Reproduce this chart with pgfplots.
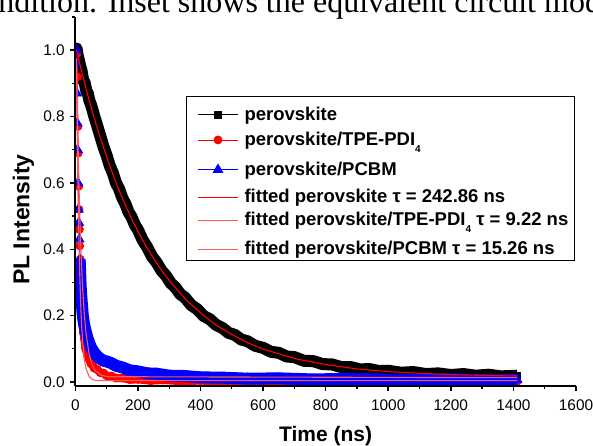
\documentclass[border=0pt]{standalone}
\usepackage{pgfplots}
\pgfplotsset{compat=1.18}
\usepackage{fontspec}
\setmainfont{Liberation Sans}
\newfontfamily\serifx{Liberation Serif}
\newcommand{\subfour}{\raisebox{-7.2bp}{\fontsize{10bp}{10bp}\selectfont 4}}
\begin{document}
\begin{tikzpicture}[x=1bp,y=1bp]
\node[anchor=base west, inner sep=0pt, font=\serifx\fontsize{32bp}{36bp}\selectfont] at (-32,433.3) {condition. Inset shows the equivalent circuit model};
\begin{axis}[
  at={(75.3bp,60bp)}, anchor=south west,
  scale only axis, width=500.7bp, height=369bp,
  xmin=0, xmax=1600, ymin=-0.012, ymax=1.1,
  axis x line=bottom, axis y line=left,
  axis line style={-, line width=2.2bp},
  x axis line style={-}, y axis line style={-},
  every outer x axis line/.append style={-},
  every outer y axis line/.append style={-},
  axis on top,
  clip marker paths=true,
  tick align=outside,
  major tick length=5bp, minor tick length=3bp,
  major tick style={black, line width=1.5bp},
  minor tick style={black, line width=1.3bp},
  xtick={0,200,...,1600},
  minor xtick={100,300,...,1500},
  ytick={0,0.2,0.4,0.6,0.8,1.0},
  minor ytick={0.1,0.3,0.5,0.7,0.9,1.1},
  scaled y ticks=false,
  /pgf/number format/assume math mode=true,
  tick label style={font=\fontsize{15.4bp}{18bp}\selectfont},
  xticklabel style={anchor=north, inner sep=0pt, yshift=-9bp, /pgf/number format/1000 sep={}},
  yticklabel style={anchor=east, inner sep=0pt, xshift=-5.3bp, /pgf/number format/.cd, fixed, fixed zerofill, precision=1},
  xlabel={Time (ns)},
  ylabel={PL Intensity},
  every axis x label/.style={at={(axis description cs:0.5,0)}, anchor=base, yshift=-55.7bp, font=\fontsize{21bp}{24bp}\selectfont\bfseries},
  every axis y label/.style={at={(axis description cs:-0.0919,0.4507)}, rotate=90, anchor=base, font=\fontsize{23bp}{26bp}\selectfont\bfseries},
  legend style={
    at={(0.2211,0.7867)}, anchor=north west,
    draw=black, line width=0.9bp, fill=white,
    inner xsep=11bp, inner ysep=4bp,
    row sep=0pt,
    font=\fontsize{18.5bp}{20bp}\selectfont\bfseries,
    nodes={inner sep=0pt},
    cells={anchor=base west},
    /tikz/every odd column/.style={column sep=6bp},
  },
  legend image code/.code={
    \draw[mark repeat=2,mark phase=2] plot coordinates {(3bp,5.5bp) (23bp,5.5bp) (43bp,5.5bp)};
  },
]
% ---- perovskite (band + markers)
\addplot[draw=black, line width=12bp, line join=round, forget plot] coordinates {
(2,0.975) (4,1.005) (8,0.982) (12,0.968) (16,0.950) (20,0.938) (25,0.910) (30,0.902) (35,0.878) (40,0.870) (45,0.848) (50,0.836) (55,0.820) (60,0.803) (70,0.772) (80,0.741) (90,0.709) (100,0.683) (110,0.652) (120,0.630) (130,0.600) (140,0.582) (150,0.555) (160,0.537) (170,0.512) (180,0.497) (190,0.474) (200,0.459) (215,0.428) (230,0.406) (245,0.378) (260,0.360) (275,0.336) (290,0.320) (305,0.298) (320,0.285) (335,0.265) (350,0.255) (370,0.232) (390,0.219) (410,0.199) (430,0.189) (450,0.172) (470,0.163) (490,0.148) (510,0.142) (530,0.128) (550,0.123) (575,0.109) (600,0.103) (625,0.091) (650,0.088) (675,0.077) (700,0.075) (730,0.064) (760,0.063) (790,0.054) (820,0.053) (850,0.045) (880,0.045) (910,0.038) (940,0.039) (970,0.033) (1000,0.034) (1040,0.028) (1080,0.030) (1120,0.024) (1160,0.026) (1200,0.021) (1240,0.024) (1280,0.019) (1320,0.022) (1360,0.017) (1412,0.019)
};
\addplot[black, line width=0.8bp, mark=square*, mark size=3.6bp, mark options={solid}] coordinates {
(2,0.975) (4,1.005) (8,0.982) (12,0.968) (16,0.950) (20,0.938) (25,0.910) (30,0.902) (35,0.878) (40,0.870) (45,0.848) (50,0.836) (55,0.820) (60,0.803) (70,0.772) (80,0.741) (90,0.709) (100,0.683) (110,0.652) (120,0.630) (130,0.600) (140,0.582) (150,0.555) (160,0.537) (170,0.512) (180,0.497) (190,0.474) (200,0.459) (215,0.428) (230,0.406) (245,0.378) (260,0.360) (275,0.336) (290,0.320) (305,0.298) (320,0.285) (335,0.265) (350,0.255) (370,0.232) (390,0.219) (410,0.199) (430,0.189) (450,0.172) (470,0.163) (490,0.148) (510,0.142) (530,0.128) (550,0.123) (575,0.109) (600,0.103) (625,0.091) (650,0.088) (675,0.077) (700,0.075) (730,0.064) (760,0.063) (790,0.054) (820,0.053) (850,0.045) (880,0.045) (910,0.038) (940,0.039) (970,0.033) (1000,0.034) (1040,0.028) (1080,0.030) (1120,0.024) (1160,0.026) (1200,0.021) (1240,0.024) (1280,0.019) (1320,0.022) (1360,0.017) (1412,0.019)
};
\addlegendentry{\rule{0pt}{20.1bp}perovskite}
% ---- perovskite/TPE-PDI4
\addplot[draw=red, line width=8bp, line join=round, forget plot] coordinates {
(16,0.37) (17.5,0.32) (19,0.28) (20.5,0.24) (22,0.20) (24,0.178) (26,0.148) (29,0.130) (32,0.103) (36,0.092) (40,0.076) (45,0.068) (50,0.055) (55,0.052) (60,0.042) (70,0.038) (80,0.028) (90,0.027) (100,0.019) (115,0.018) (130,0.012) (150,0.012) (175,0.007) (200,0.008) (240,0.004) (280,0.006) (330,0.003) (400,0.004) (500,0.002) (700,0.003) (900,0.001) (1100,0.003) (1300,0.001) (1412,0.002)
};
\addplot[red, line width=0.8bp, mark=*, mark size=4bp, mark options={solid}] coordinates {
(5,0.99) (7,0.92) (8.5,0.77) (9.5,0.69) (11,0.59) (12,0.52) (13,0.46) (14,0.41) (16,0.37) (17.5,0.32) (19,0.28) (20.5,0.24) (22,0.20) (24,0.178) (26,0.148) (29,0.130) (32,0.103) (36,0.092) (40,0.076) (45,0.068) (50,0.055) (55,0.052) (60,0.042) (70,0.038) (80,0.028) (90,0.027) (100,0.019) (115,0.018) (130,0.012) (150,0.012) (175,0.007) (200,0.008) (240,0.004) (280,0.006) (330,0.003) (400,0.004) (500,0.002) (700,0.003) (900,0.001) (1100,0.003) (1300,0.001) (1412,0.002)
};
\addlegendentry{\rule{0pt}{23.7bp}perovskite/TPE-PDI\subfour}
% ---- perovskite/PCBM
\addplot[draw=blue, line width=12bp, line join=round, forget plot] coordinates {
(14,0.37) (15.5,0.33) (17,0.29) (19,0.26) (21,0.235) (24,0.20) (27,0.18) (30,0.165) (35,0.146) (40,0.130) (45,0.116) (50,0.105) (55,0.096) (60,0.089) (70,0.078) (80,0.070) (90,0.064) (100,0.062) (115,0.057) (130,0.049) (150,0.044) (175,0.035) (200,0.032) (230,0.026) (260,0.025) (300,0.019) (350,0.018) (400,0.014) (475,0.013) (550,0.010) (650,0.011) (750,0.008) (900,0.009) (1050,0.006) (1200,0.008) (1350,0.005) (1412,0.006)
};
\addplot[blue, line width=0.8bp, mark=triangle*, mark size=5.5bp, mark options={solid}] coordinates {
(3,0.96) (4,1.00) (5,0.87) (6,0.78) (7,0.70) (8.5,0.60) (10,0.52) (11,0.48) (12.5,0.43) (14,0.37) (15.5,0.33) (17,0.29) (19,0.26) (21,0.235) (24,0.20) (27,0.18) (30,0.165) (35,0.146) (40,0.130) (45,0.116) (50,0.105) (55,0.096) (60,0.089) (70,0.078) (80,0.070) (90,0.064) (100,0.062) (115,0.057) (130,0.049) (150,0.044) (175,0.035) (200,0.032) (230,0.026) (260,0.025) (300,0.019) (350,0.018) (400,0.014) (475,0.013) (550,0.010) (650,0.011) (750,0.008) (900,0.009) (1050,0.006) (1200,0.008) (1350,0.005) (1412,0.006)
};
\addlegendentry{\rule{0pt}{28.3bp}perovskite/PCBM}
% ---- fits
\addplot[color=red, line width=1.1bp] coordinates {
(4,1.000) (14,0.960) (24,0.922) (34,0.886) (44,0.850) (54,0.817) (64,0.784) (84,0.724) (104,0.668) (124,0.616) (144,0.568) (164,0.525) (184,0.484) (204,0.447) (229,0.405) (254,0.367) (279,0.332) (304,0.301) (354,0.248) (404,0.205) (454,0.169) (504,0.141) (554,0.117) (604,0.098) (704,0.070) (804,0.052) (904,0.039) (1004,0.031) (1104,0.026) (1204,0.022) (1304,0.020) (1412,0.018)
};
\addlegendentry{\rule{0pt}{26bp}fitted perovskite τ = 242.86 ns}
\addplot[color=red!65, line width=1.1bp] coordinates {
(4,0.974) (5,0.874) (6,0.785) (7,0.705) (8,0.633) (9,0.568) (10,0.510) (12,0.411) (14,0.332) (16,0.268) (18,0.217) (20,0.175) (24,0.115) (29,0.068) (34,0.041) (44,0.017) (54,0.008) (64,0.005) (84,0.004) (1412,0.004)
};
\addlegendentry{\rule{0pt}{21.4bp}fitted perovskite/TPE-PDI\subfour{} τ = 9.22 ns\hspace*{-5bp}}
\addplot[color=red!65, line width=1.1bp] coordinates {
(4,0.975) (5,0.914) (6,0.857) (7,0.804) (8,0.754) (9,0.707) (10,0.663) (12,0.583) (14,0.514) (16,0.452) (18,0.399) (20,0.351) (24,0.274) (29,0.202) (34,0.149) (44,0.085) (54,0.051) (64,0.034) (84,0.020) (104,0.016) (1412,0.013)
};
\addlegendentry{\rule{0pt}{27.6bp}fitted perovskite/PCBM τ = 15.26 ns}
\end{axis}
\pgfresetboundingbox
\useasboundingbox (0,0) rectangle (593,446);
\end{tikzpicture}
\end{document}
